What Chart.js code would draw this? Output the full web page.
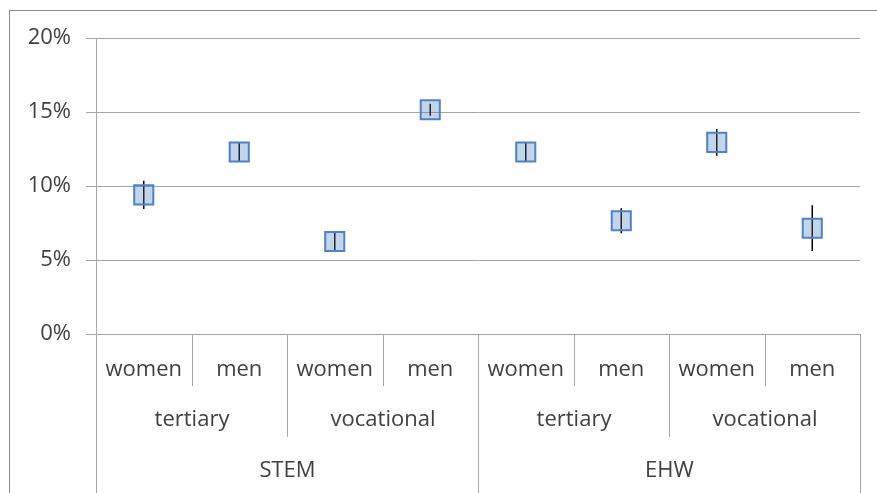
<!DOCTYPE html>
<html lang="en">
<head>
  <meta charset="UTF-8" />
  <script src="https://cdn.jsdelivr.net/npm/chart.js"></script>
  <title>STEM / EHW shares</title>
  <style>
    html, body { margin: 0; padding: 0; background: #fff; }
    #wrap { position: relative; width: 877px; height: 493px; }
  </style>
</head>
<body>
  <div id="wrap"><canvas id="chart"></canvas></div>
  <script>
    // categories (three levels, innermost first)
    const sexLabels = ['women', 'men', 'women', 'men', 'women', 'men', 'women', 'men'];
    const levelLabels = ['tertiary', 'vocational', 'tertiary', 'vocational'];
    const fieldLabels = ['STEM', 'EHW'];

    // share in %, and half-width of error bar in %
    const shares = [9.4, 12.3, 6.25, 15.15, 12.3, 7.65, 12.95, 7.15];
    const errors = [0.95, 0.65, 0.6, 0.4, 0.65, 0.85, 0.9, 1.55];

    const yTicks = [0, 5, 10, 15, 20];

    const FONT = '"Open Sans", sans-serif';
    const TEXT = '#404040';
    const GRID = '#a6a6a6';

    // error bars, drawn behind the markers
    const errorBars = {
      id: 'errorBars',
      beforeDatasetsDraw(chart) {
        const ctx = chart.ctx;
        const y = chart.scales.y;
        const meta = chart.getDatasetMeta(0);
        ctx.save();
        ctx.strokeStyle = '#000';
        ctx.lineWidth = 1.5;
        meta.data.forEach((pt, i) => {
          ctx.beginPath();
          ctx.moveTo(pt.x, y.getPixelForValue(shares[i] + errors[i]));
          ctx.lineTo(pt.x, y.getPixelForValue(shares[i] - errors[i]));
          ctx.stroke();
        });
        ctx.restore();
      }
    };

    // multi-level category axis + outer frame
    const groupAxis = {
      id: 'groupAxis',
      afterDraw(chart) {
        const ctx = chart.ctx;
        const x = chart.scales.x;
        const top = chart.chartArea.bottom;
        const left = chart.chartArea.left;
        const n = sexLabels.length;
        const step = (chart.chartArea.right - left) / n;
        const edge = i => Math.round(left + i * step) + 0.5;

        ctx.save();
        ctx.strokeStyle = GRID;
        ctx.lineWidth = 1;
        ctx.fillStyle = TEXT;
        ctx.font = '22px ' + FONT;
        ctx.textAlign = 'center';
        ctx.textBaseline = 'middle';

        // row 1
        sexLabels.forEach((lab, i) => ctx.fillText(lab, x.getPixelForValue(i), 370));
        // row 2
        levelLabels.forEach((lab, i) => ctx.fillText(lab, (edge(i * 2) + edge(i * 2 + 2)) / 2, 420));
        // row 3
        fieldLabels.forEach((lab, i) => ctx.fillText(lab, (edge(i * 4) + edge(i * 4 + 4)) / 2, 471));

        // separators
        for (let i = 0; i <= n; i++) {
          let bottom = 386;
          if (i % 2 === 0) bottom = 437;
          if (i % 4 === 0) bottom = 493;
          ctx.beginPath();
          ctx.moveTo(edge(i), top);
          ctx.lineTo(edge(i), bottom);
          ctx.stroke();
        }

        // chart frame
        ctx.strokeStyle = '#8c8c8c';
        ctx.strokeRect(9.5, 10.5, 900, 500);
        ctx.restore();
      }
    };

    new Chart(document.getElementById('chart'), {
      type: 'line',
      data: {
        labels: sexLabels,
        datasets: [{
          data: shares,
          showLine: false,
          pointStyle: 'rect',
          pointRadius: 13.5,
          pointHoverRadius: 13.5,
          pointBorderWidth: 2,
          pointBorderColor: '#4f81c7',
          pointBackgroundColor: 'rgba(79,129,189,0.33)'
        }]
      },
      options: {
        responsive: true,
        maintainAspectRatio: false,
        animation: false,
        events: [],
        layout: { padding: { left: 0, top: 38, right: 17, bottom: 0 } },
        plugins: {
          legend: { display: false },
          tooltip: { enabled: false }
        },
        scales: {
          x: {
            offset: true,
            grid: { display: false },
            border: { display: false },
            ticks: { display: false },
            afterFit(scale) { scale.height = 159; }
          },
          y: {
            min: 0,
            max: 20,
            afterBuildTicks(scale) { scale.ticks = yTicks.map(v => ({ value: v })); },
            afterFit(scale) { scale.width = 96; },
            grid: { color: GRID, lineWidth: 1, tickLength: 10 },
            border: { color: GRID, width: 1 },
            ticks: {
              color: TEXT,
              padding: 15,
              font: { family: FONT, size: 22 },
              callback: v => v + '%'
            }
          }
        }
      },
      plugins: [errorBars, groupAxis]
    });
  </script>
</body>
</html>
